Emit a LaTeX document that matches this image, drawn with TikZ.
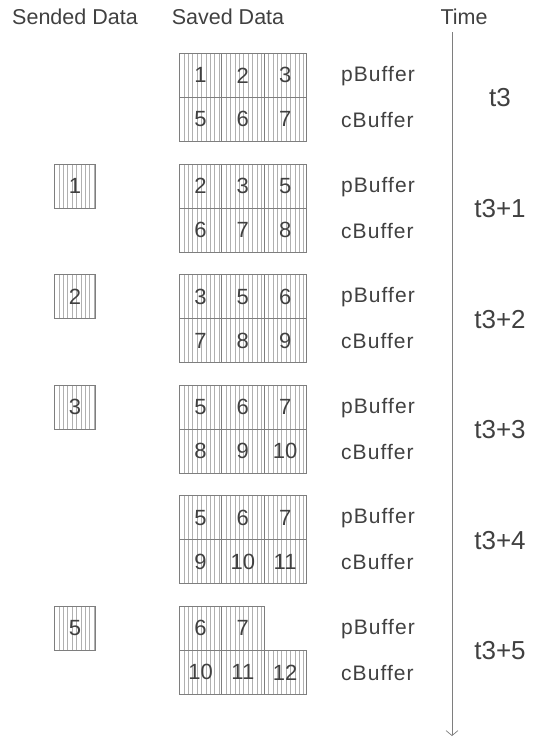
\documentclass[tikz,border=0pt]{standalone}
\usepackage{fontspec}
\setmainfont{Liberation Sans}
\usetikzlibrary{arrows.meta}
\definecolor{txt}{HTML}{404040}
\definecolor{bord}{HTML}{7E7E7E}
\definecolor{stripe}{HTML}{B0B0B0}
\tikzset{
  cell/.style={draw=bord, line width=0.8pt, minimum width=42.3pt, minimum height=44pt,
    inner sep=0pt, text=txt, font=\fontsize{22}{22}\selectfont, anchor=north west,
    path picture={\foreach \i in {1,...,9}{\draw[stripe,line width=0.6pt]
      ([xshift=\i*4.4pt]path picture bounding box.north west) --
      ([xshift=\i*4.4pt]path picture bounding box.south west);}}},
  hdr/.style={text=txt, font=\fontsize{21.5}{22}\selectfont, inner sep=0pt},
  buf/.style={text=txt, font=\fontsize{21}{21}\selectfont\addfontfeature{LetterSpace=5}, inner sep=0pt, anchor=west},
  tlab/.style={text=txt, font=\fontsize{26}{26}\selectfont, inner sep=0pt},
}
\begin{document}
\begin{tikzpicture}[x=1pt,y=-1pt]
\useasboundingbox (0,0) rectangle (556,739);
% headers
\node[hdr] (h1) at (75,17) {Sended Data};
\node[hdr] (h2) at (228,17) {Saved Data};
\node[hdr] (h3) at (464,17) {Time};
% time axis
\coordinate (ts) at (452,32);
\coordinate (te) at (452,736);
\draw[bord, line width=0.7pt, -{Straight Barb[length=5pt,width=12pt]}] (ts) -- (te);
% blocks
\foreach \k/\pa/\pb/\pc/\ca/\cb/\cc/\tm in {0/1/2/3/5/6/7/t3, 1/2/3/5/6/7/8/t3+1, 2/3/5/6/7/8/9/t3+2, 3/5/6/7/8/9/10/t3+3, 4/5/6/7/9/10/11/t3+4}{
  \pgfmathsetmacro\tp{53+110.6*\k}
  \node[cell] (p\k a) at (179,\tp) {\pa};
  \node[cell] (p\k b) at (221.3,\tp) {\pb};
  \node[cell] (p\k c) at (263.6,\tp) {\pc};
  \node[cell] (c\k a) at (179,\tp+44) {\ca};
  \node[cell] (c\k b) at (221.3,\tp+44) {\cb};
  \node[cell] (c\k c) at (263.6,\tp+44) {\cc};
  \node[buf] (pb\k) at (341,\tp+23) {pBuffer};
  \node[buf] (cb\k) at (341,\tp+67) {cBuffer};
  \node[tlab] (t\k) at (500,\tp+45) {\tm};
}
% last block
\node[cell] (p5a) at (179,606) {6};
\node[cell] (p5b) at (221.3,606) {7};
\node[cell] (c5a) at (179,650) {10};
\node[cell] (c5b) at (221.3,650) {11};
\node[cell] (c5c) at (263.6,650) {12};
\node[buf] (pb5) at (341,629) {pBuffer};
\node[buf] (cb5) at (341,673) {cBuffer};
\node[tlab] (t5) at (500,651) {t3+5};
% sended data
\node[cell, minimum width=41pt] (s1) at (54,163.6) {1};
\node[cell, minimum width=41pt] (s2) at (54,274.2) {2};
\node[cell, minimum width=41pt] (s3) at (54,384.8) {3};
\node[cell, minimum width=41pt] (s5) at (54,606) {5};
\end{tikzpicture}
\end{document}
